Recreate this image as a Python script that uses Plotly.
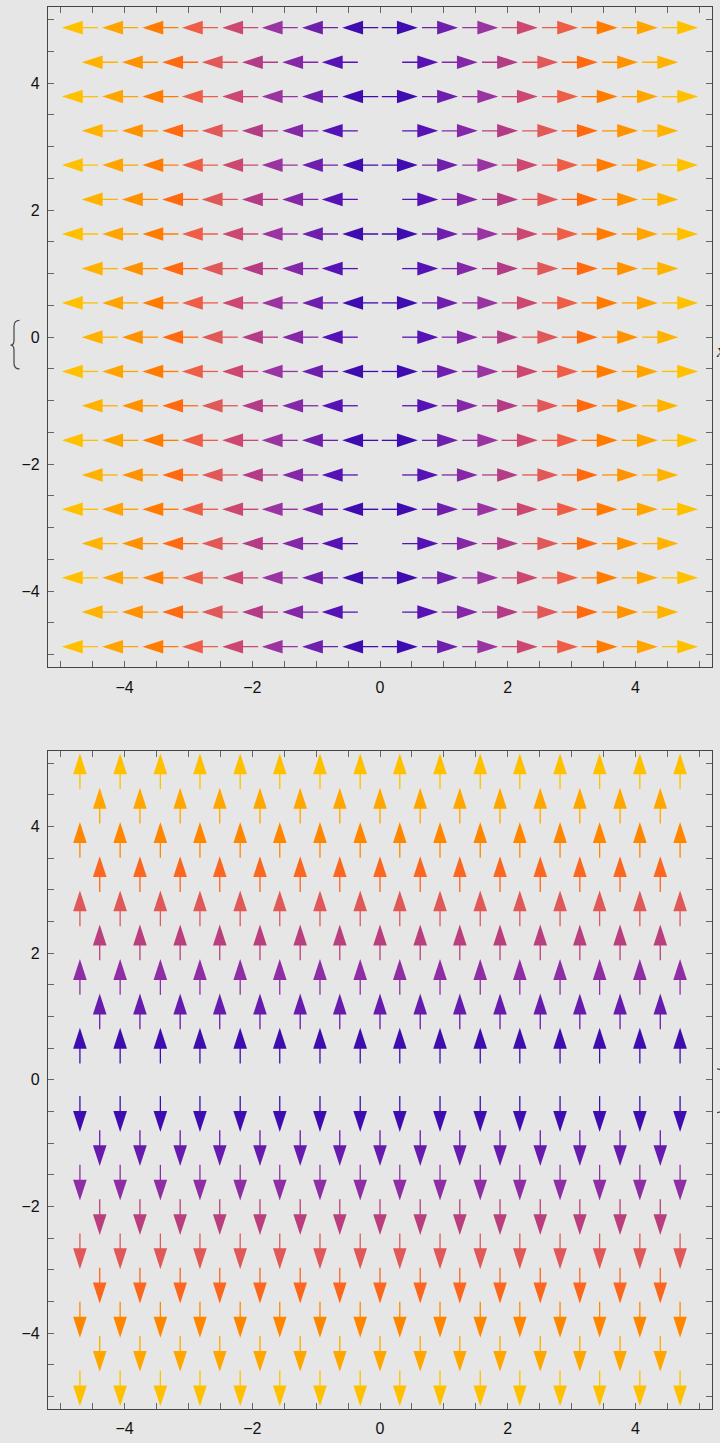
import math
import plotly.graph_objects as go
from plotly.colors import sample_colorscale

# ---------------- data ----------------
# staggered sampling grid: rows of type A and type B alternate
X_ROW_A = [-4.70, -4.07, -3.44, -2.82, -2.19, -1.57, -0.94, -0.31,
           0.31, 0.94, 1.57, 2.19, 2.82, 3.44, 4.07, 4.70]
X_ROW_B = [-4.39, -3.76, -3.13, -2.51, -1.88, -1.25, -0.63, 0.0,
           0.63, 1.25, 1.88, 2.51, 3.13, 3.76, 4.39]
Y_ROW_A = [-4.875, -3.79, -2.71, -1.625, -0.54, 0.54, 1.625, 2.71, 3.79, 4.875]
Y_ROW_B = [-4.33, -3.25, -2.17, -1.08, 0.0, 1.08, 2.17, 3.25, 4.33]

# vector fields: top panel {x, 0}, bottom panel {0, y}
FIELDS = {
    "top": lambda x, y: (x, 0.0),
    "bottom": lambda x, y: (0.0, y),
}

X_TICKS = [-4, -2, 0, 2, 4]
Y_TICKS = [-4, -2, 0, 2, 4]
AXIS_RANGE = [-5.2, 5.2]

# colour function by vector norm (low -> high)
COLOR_STOPS = [0.0, 0.071, 0.143, 0.214, 0.286, 0.357, 0.429, 0.5,
               0.571, 0.643, 0.714, 0.786, 0.857, 0.929, 1.0]
COLOR_VALUES = ["#3f0cb0", "#5512b4", "#6e20ac", "#8428a8", "#9a34a0",
                "#b43c84", "#cc4870", "#e05858", "#ee5e48", "#ff6a10",
                "#ff7c00", "#ff9200", "#ffa400", "#ffb200", "#ffc000"]
COLORSCALE = [[s, c] for s, c in zip(COLOR_STOPS, COLOR_VALUES)]

# ---------------- styling ----------------
W, H = 720, 1443
ML, MR, MT, MB = 48, 8, 6, 23
BG = "#e6e6e6"
ARROW_LEN = 0.565      # data units (all arrows drawn with equal length)
HEAD_SIZE = 22         # marker size of the arrow head
HEAD_INSET = 0.15      # shaft stops this far behind the tip (hidden under head)

PLOT_W = W - ML - MR
PLOT_H = H - MT - MB
TOP_PX = (6, 672)
BOT_PX = (756, 1420)


def pyp(py):
    return (H - MB - py) / PLOT_H


def pxp(px):
    return (px - ML) / PLOT_W


fig = go.Figure()


def grid():
    pts = [(x, y) for y in Y_ROW_A for x in X_ROW_A]
    pts += [(x, y) for y in Y_ROW_B for x in X_ROW_B]
    return pts


def add_field(name, xa, ya):
    f = FIELDS[name]
    vecs = []
    for (x, y) in grid():
        u, v = f(x, y)
        m = math.hypot(u, v)
        if m > 1e-9:
            vecs.append((x, y, u, v, m))
    mmin = min(v[4] for v in vecs)
    mmax = max(v[4] for v in vecs)
    groups = {}
    for vec in vecs:
        groups.setdefault(round(vec[4], 3), []).append(vec)
    for key in sorted(groups):
        t = (key - mmin) / (mmax - mmin)
        col = sample_colorscale(COLORSCALE, [min(max(t, 0), 1)])[0]
        sx, sy, hx, hy, ang = [], [], [], [], []
        for (x, y, u, v, m) in groups[key]:
            dx, dy = u / m, v / m
            tipx, tipy = x + dx * ARROW_LEN / 2, y + dy * ARROW_LEN / 2
            tailx, taily = x - dx * ARROW_LEN / 2, y - dy * ARROW_LEN / 2
            sx += [tailx, tipx - dx * HEAD_INSET, None]
            sy += [taily, tipy - dy * HEAD_INSET, None]
            hx.append(tipx)
            hy.append(tipy)
            ang.append(math.degrees(math.atan2(dx, dy)))
        fig.add_trace(go.Scatter(
            x=sx, y=sy, mode="lines", xaxis=xa, yaxis=ya,
            line=dict(color=col, width=1.3), hoverinfo="skip", showlegend=False))
        fig.add_trace(go.Scatter(
            x=hx, y=hy, mode="markers", xaxis=xa, yaxis=ya,
            marker=dict(symbol="arrow", size=HEAD_SIZE, angle=ang, color=col,
                        line=dict(width=0)),
            hoverinfo="skip", showlegend=False))


add_field("top", "x", "y")
add_field("bottom", "x2", "y2")

axis_common = dict(
    range=AXIS_RANGE, showgrid=False, zeroline=False,
    showline=True, linecolor="#444444", linewidth=1.1, mirror="ticks",
    ticks="inside", ticklen=6, tickcolor="#666666", tickwidth=1,
    tickmode="array",
    minor=dict(dtick=0.5, tick0=0, ticks="inside", ticklen=6,
               tickcolor="#666666", tickwidth=1, showgrid=False),
    tickfont=dict(family="Liberation Sans, Arial, sans-serif", size=16, color="#111111"),
    fixedrange=True,
)

fig.update_layout(
    width=W, height=H,
    margin=dict(l=ML, r=MR, t=MT, b=MB, pad=0),
    paper_bgcolor=BG, plot_bgcolor=BG,
    showlegend=False,
    xaxis=dict(axis_common, domain=[0, 1], anchor="y", tickvals=X_TICKS,
               ticklabelstandoff=5),
    yaxis=dict(axis_common, domain=[pyp(TOP_PX[1]), pyp(TOP_PX[0])], anchor="x",
               tickvals=Y_TICKS, ticklabelstandoff=4),
    xaxis2=dict(axis_common, domain=[0, 1], anchor="y2", tickvals=X_TICKS,
                ticklabelstandoff=5),
    yaxis2=dict(axis_common, domain=[pyp(BOT_PX[1]), pyp(BOT_PX[0])], anchor="x2",
                tickvals=Y_TICKS, ticklabelstandoff=4),
)

# clipped frame-label remnants at the image edges (also clipped in the reference)
fig.add_annotation(xref="paper", yref="paper", x=pxp(714), y=pyp(353),
                   xanchor="left", yanchor="middle", showarrow=False,
                   text="<i>x</i>",
                   font=dict(family="Liberation Serif, serif", size=18, color="#222222"))

left_brace = ("M {a},{b} Q {c},{b} {c},{d} L {c},{e} Q {c},{f} {g},{f} "
              "Q {c},{f} {c},{h} L {c},{i} Q {c},{j} {a},{j}").format(
    a=pxp(19.5), b=pyp(322), c=pxp(14), d=pyp(328), e=pyp(342),
    f=pyp(347), g=pxp(10.5), h=pyp(352), i=pyp(365), j=pyp(371))
fig.add_shape(type="path", xref="paper", yref="paper", path=left_brace,
              line=dict(color="#444444", width=1.2))

right_brace = ("M {a},{b} Q {c},{b} {c},{d} L {c},{e} Q {c},{f} {g},{f} "
               "Q {c},{f} {c},{h} L {c},{i} Q {c},{j} {a},{j}").format(
    a=pxp(717), b=pyp(1077), c=pxp(723), d=pyp(1084), e=pyp(1094),
    f=pyp(1099), g=pxp(727), h=pyp(1104), i=pyp(1114), j=pyp(1121))
fig.add_shape(type="path", xref="paper", yref="paper", path=right_brace,
              line=dict(color="#444444", width=1.2))

fig.write_html("out.html")
